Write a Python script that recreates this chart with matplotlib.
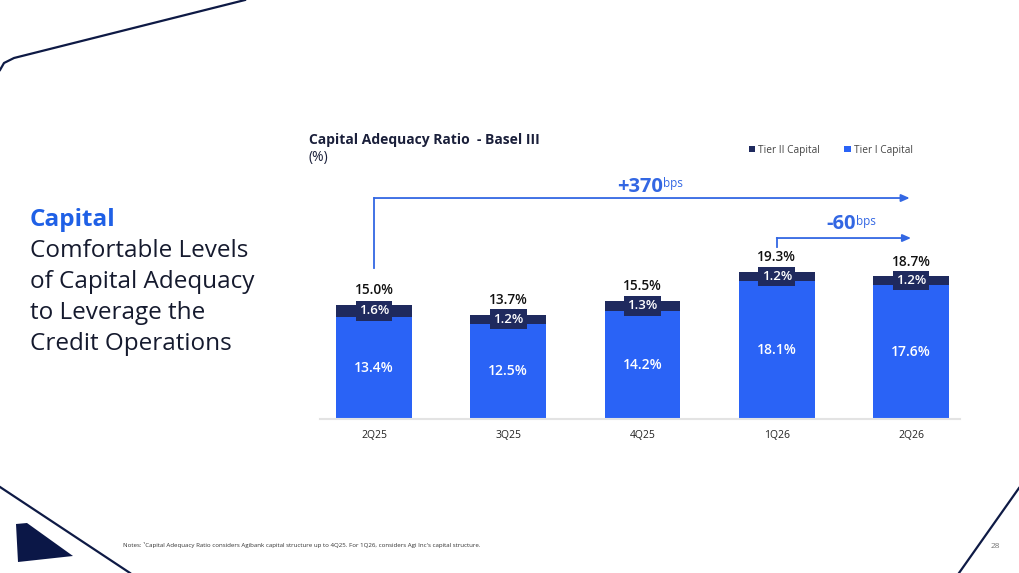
import numpy as np
import matplotlib.pyplot as plt
from matplotlib.patches import Polygon

plt.rcParams['font.family'] = ['Open Sans', 'DejaVu Sans']

# dados do grafico
quarters = ["2Q25", "3Q25", "4Q25", "1Q26", "2Q26"]
tier1 = [13.4, 12.5, 14.2, 18.1, 17.6]
tier2 = [1.6, 1.2, 1.3, 1.2, 1.2]
totals = [15.0, 13.7, 15.5, 19.3, 18.7]

BLUE = "#2A63F6"
NAVY = "#1F2A5E"
DARK = "#0E1A45"
ARROW = "#3367E3"

W, H = 1019, 573
fig = plt.figure(figsize=(W / 100, H / 100), dpi=100)

# camada de fundo em pixels (decoracao + textos)
bg = fig.add_axes([0, 0, 1, 1])
bg.set_xlim(0, W)
bg.set_ylim(H, 0)
bg.axis("off")

bg.plot(np.r_[0, 4, 14, 245], np.r_[70, 63, 58, 0], color=DARK, lw=1.6)
bg.plot([0, 130], [487, 573], color=DARK, lw=1.6)
bg.plot([1019, 959], [488, 573], color=DARK, lw=1.6)
bg.add_patch(Polygon([(16, 524), (27, 523), (73, 556), (18, 562)],
                     closed=True, color="#0B1747", lw=0))

bg.text(30, 220, "Capital", color="#1F60E6", fontsize=17.5,
        fontweight="bold", va="center")
for i, line in enumerate(["Comfortable Levels", "of Capital Adequacy",
                          "to Leverage the", "Credit Operations"]):
    bg.text(30, 251 + 31 * i, line, color="#151A2E", fontsize=17.5,
            va="center")

bg.text(309, 140, "Capital Adequacy Ratio  - Basel III", fontsize=10,
        fontweight="bold", color="#1A1F3A", va="center")
bg.text(309, 157, "(%)", fontsize=10, color="#1A1F3A", va="center")

bg.text(123, 545, "Notes: \u00b9Capital Adequacy Ratio considers Agibank capital "
        "structure up to 4Q25. For 1Q26, considers Agi Inc's capital structure.",
        fontsize=4.45, color="#333333", va="center")
bg.text(995, 546, "28", fontsize=6, color="#777777", va="center", ha="center")

# grafico de barras
px = 7.62
ax = fig.add_axes([320 / W, (H - 419) / H, 640 / W, 300 / H])
ax.set_facecolor("none")
ax.set_xlim(-0.402, 4.365)
ax.set_ylim(0, 300 / px)
x = np.arange(len(quarters))
b1 = ax.bar(x, tier1, width=0.565, color=BLUE, label="Tier I Capital")
b2 = ax.bar(x, tier2, width=0.565, bottom=tier1, color=NAVY,
            label="Tier II Capital")

for i in range(len(quarters)):
    ax.text(x[i], tier1[i] / 2, f"{tier1[i]:.1f}%", color="white",
            ha="center", va="center", fontsize=10, fontweight="semibold")
    ax.text(x[i], tier1[i] + tier2[i] / 2, f"{tier2[i]:.1f}%",
            color="white", ha="center", va="center", fontsize=9.5,
            fontweight="semibold",
            bbox=dict(boxstyle="square,pad=0.25", fc=NAVY, ec="none"))
    ax.text(x[i], totals[i] + 1.0, f"{totals[i]:.1f}%", color="#111111",
            ha="center", va="bottom", fontsize=9.8, fontweight="semibold")

for s in ["top", "right", "left"]:
    ax.spines[s].set_visible(False)
ax.spines["bottom"].set_color("#E3E3E3")
ax.spines["bottom"].set_linewidth(1.5)
ax.set_yticks([])
ax.set_xticks(x)
ax.set_xticklabels(quarters, fontsize=7.5, color="#222222")
ax.tick_params(axis="x", length=0, pad=8)

# setas de variacao
ax.plot([0, 0], [19.8, 29.0], color=ARROW, lw=1.3)
ax.annotate("", xy=(3.99, 29.0), xytext=(0, 29.0),
            arrowprops=dict(arrowstyle="-|>,head_length=0.5,head_width=0.22",
                            color=ARROW, lw=1.3, shrinkA=0, shrinkB=0))
ax.plot([3, 3], [22.6, 23.75], color=ARROW, lw=1.3)
ax.annotate("", xy=(4.0, 23.75), xytext=(3, 23.75),
            arrowprops=dict(arrowstyle="-|>,head_length=0.5,head_width=0.22",
                            color=ARROW, lw=1.3, shrinkA=0, shrinkB=0))

bg.text(663, 187, "+370", color=ARROW, fontsize=14.5, fontweight="bold",
        ha="right", va="center")
bg.text(663, 184, "bps", color=ARROW, fontsize=8.5, ha="left", va="center")
bg.text(856, 224, "-60", color=ARROW, fontsize=14.5, fontweight="bold",
        ha="right", va="center")
bg.text(856, 221, "bps", color=ARROW, fontsize=8.5, ha="left", va="center")

leg = ax.legend(handles=[b2, b1], loc="center left",
                bbox_to_anchor=(740 / W, (H - 150) / H),
                bbox_transform=fig.transFigure, ncol=2, frameon=False,
                fontsize=7.3, handlelength=0.6, handleheight=0.6,
                handletextpad=0.3, columnspacing=2.4)
for txt in leg.get_texts():
    txt.set_color("#444444")

fig.savefig("out.png", dpi=100)
